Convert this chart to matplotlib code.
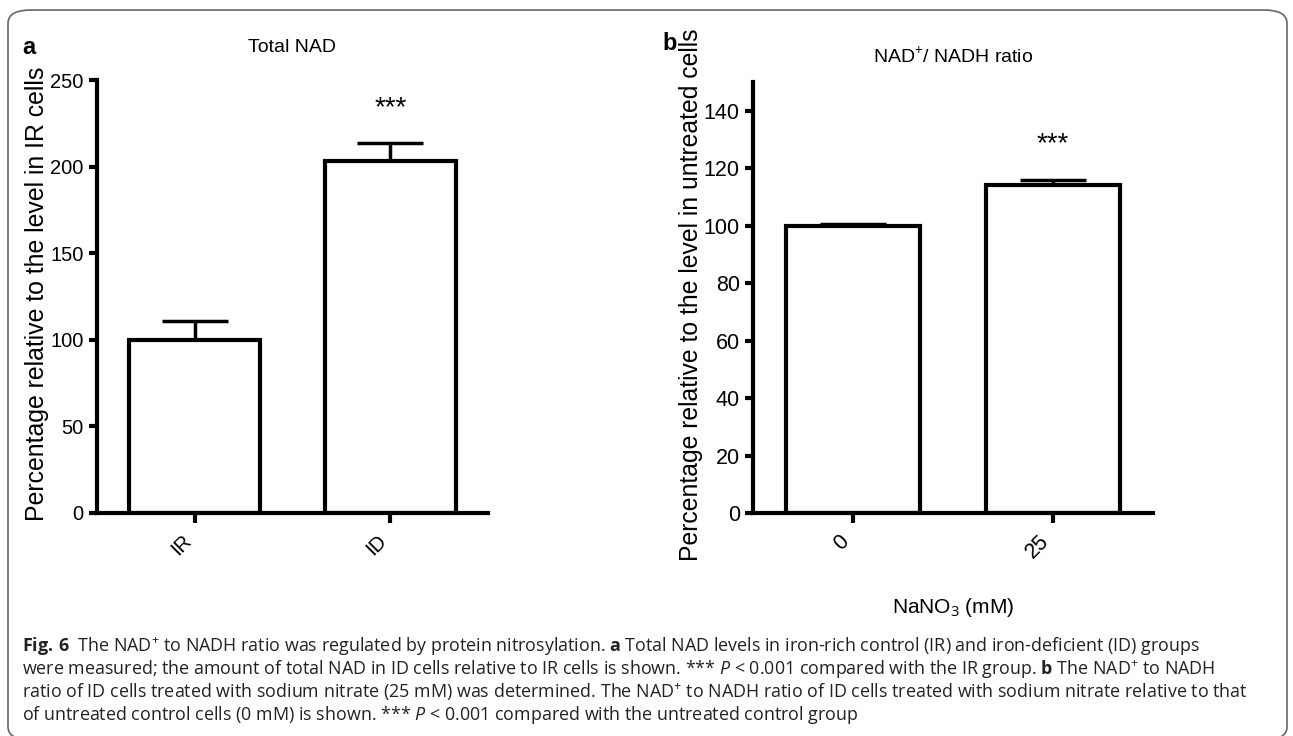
import matplotlib
matplotlib.use("Agg")
import matplotlib.pyplot as plt
import matplotlib.transforms as mtransforms
from matplotlib.patches import FancyBboxPatch

# data
nad_groups = ["IR", "ID"]
nad_values = [100, 203]
nad_err = [11, 10.5]
ratio_groups = ["0", "25"]
ratio_values = [100, 114]
ratio_err = [0.5, 2]

plt.rcParams['font.family'] = ['Liberation Sans', 'DejaVu Sans']
plt.rcParams['mathtext.fontset'] = 'custom'
plt.rcParams['mathtext.rm'] = 'Open Sans'
plt.rcParams['mathtext.it'] = 'Open Sans:italic'
plt.rcParams['mathtext.bf'] = 'Open Sans:bold'

W, H = 1293, 736
fig = plt.figure(figsize=(W / 100, H / 100), dpi=100)

def px_axes(l, t, r, b):
    return fig.add_axes([l / W, 1 - b / H, (r - l) / W, (b - t) / H])

def panel(ax, groups, vals, errs, ymax, yticks, fs):
    x = range(len(groups))
    ax.bar(x, vals, width=0.67, color="white", edgecolor="black", linewidth=3, zorder=2)
    ax.errorbar(x, vals, yerr=[[0] * len(errs), errs], fmt="none", ecolor="black",
                elinewidth=2.5, capsize=24, capthick=2.5, zorder=1)
    ax.set_xlim(-0.5, 1.5)
    ax.set_ylim(0, ymax)
    ax.set_yticks(yticks)
    ax.set_xticks(list(x))
    ax.set_xticklabels(groups, rotation=45, ha="right")
    shift = mtransforms.ScaledTranslation(9 / 100, 0, fig.dpi_scale_trans)
    for lab in ax.get_xticklabels():
        lab.set_transform(lab.get_transform() + shift)
    for s in ["top", "right"]:
        ax.spines[s].set_visible(False)
    for s in ["left", "bottom"]:
        ax.spines[s].set_linewidth(3)
    ax.tick_params(axis="both", width=3, length=6, labelsize=fs, direction="out")
    ax.tick_params(axis="x", length=7, pad=6)
    ax.set_facecolor("none")

ax1 = px_axes(97, 80, 488, 513)
panel(ax1, nad_groups, nad_values, nad_err, 250, [0, 50, 100, 150, 200, 250], 14.5)
ax1.set_title("Total NAD", fontsize=14, pad=20)
ax1.set_ylabel("Percentage relative to the level in IR cells", fontsize=17.9, va="center")
ax1.yaxis.set_label_coords((37 - 97) / 391, (513 - 294) / 433)
ax1.text(1, 234, "***", ha="center", va="center", fontsize=20)
fig.text(29 / W, 1 - 47 / H, "a", fontsize=17, fontweight="bold", ha="center", va="center")

ax2 = px_axes(753, 82, 1153, 513)
panel(ax2, ratio_groups, ratio_values, ratio_err, 150, [0, 20, 40, 60, 80, 100, 120, 140], 15.5)
ax2.set_title("NAD$^{+}$/ NADH ratio", fontsize=14, pad=14)
ax2.set_ylabel("Percentage relative to the level in untreated cells", fontsize=17.8, va="center")
ax2.yaxis.set_label_coords((691 - 753) / 400, (513 - 295) / 431)
ax2.set_xlabel("NaNO$_{3}$ (mM)", fontsize=15, labelpad=24)
ax2.text(1, 128.5, "***", ha="center", va="center", fontsize=20)
fig.text(670 / W, 1 - 43 / H, "b", fontsize=17, fontweight="bold", ha="center", va="center")

# outer frame, bottom edge just off the image
frame = FancyBboxPatch((8 / W, -4 / H), 1279 / W, (H - 10 + 4) / H,
                       boxstyle="round,pad=0,rounding_size=0.018", transform=fig.transFigure,
                       facecolor="none", edgecolor="#666666", linewidth=1.2, clip_on=False)
fig.patches.append(frame)

caption = [
    r"$\mathbf{Fig.\,6}$  The NAD$^{+}$ to NADH ratio was regulated by protein nitrosylation. $\mathbf{a}$ Total NAD levels in iron-rich control (IR) and iron-deficient (ID) groups",
    r"were measured; the amount of total NAD in ID cells relative to IR cells is shown. *** $\mathit{P}$ < 0.001 compared with the IR group. $\mathbf{b}$ The NAD$^{+}$ to NADH",
    r"ratio of ID cells treated with sodium nitrate (25 mM) was determined. The NAD$^{+}$ to NADH ratio of ID cells treated with sodium nitrate relative to that",
    r"of untreated control cells (0 mM) is shown. *** $\mathit{P}$ < 0.001 compared with the untreated control group",
]
cap_texts = []
for i, line in enumerate(caption):
    t = fig.text(22 / W, 1 - (647 + 22.5 * i) / H, line, fontsize=11, ha="left", va="center",
                 color="#222222", family="Open Sans")
    cap_texts.append(t)

# scale caption so the widest line fits inside the frame
renderer = fig.canvas.get_renderer()
w0 = max(t.get_window_extent(renderer).width for t in cap_texts)
new_fs = 11 * (1248 - 22) / w0
for t in cap_texts:
    t.set_fontsize(new_fs)

fig.savefig("out.png", dpi=100)
